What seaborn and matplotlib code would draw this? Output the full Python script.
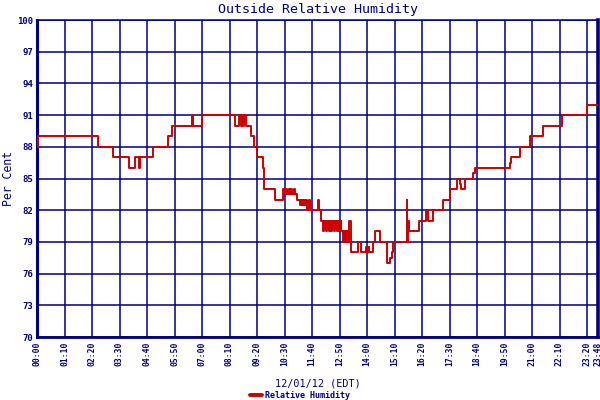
import matplotlib
matplotlib.use("Agg")
import matplotlib.pyplot as plt
import seaborn as sns
import pandas as pd
from matplotlib.lines import Line2D

# ---- data (minutes after midnight where the reading changes, and the new reading) ----
minutes = [0, 3, 155, 193, 234, 250, 260, 263, 295, 333, 343, 394, 396, 421,
           503, 513, 518, 522, 525, 528, 531, 545, 552, 561, 575, 579, 605,
           627, 632, 634, 637, 641, 645, 647, 650, 653, 656, 661,
           669, 671, 674, 676, 678, 679, 683, 684, 686, 693, 696, 715, 718,
           722, 728, 731, 735, 738, 742, 745, 748, 751, 756, 758, 763, 766,
           768, 773, 775, 779, 782, 785, 787, 791, 795, 798, 800,
           817, 824, 837, 840, 844, 846, 856, 861, 873, 890, 891, 898, 903, 907,
           941, 943, 944, 946, 973, 990, 995, 1007, 1034, 1050, 1069, 1076,
           1080, 1090, 1109, 1114, 1204, 1207, 1229, 1256, 1287, 1336, 1400, 1428]
humidity = [88, 89, 88, 87, 86, 87, 86, 87, 88, 89, 90, 91, 90, 91,
            90, 91, 90, 91, 90, 91, 90, 89, 88, 87, 86, 84, 83,
            84, 83.5, 84, 83.5, 84, 83.5, 84, 83.5, 84, 83.5, 83,
            82.5, 83, 82.5, 83, 82.5, 83, 82.5, 83, 82, 83, 82, 83, 82,
            81, 80, 81, 80, 81, 80, 81, 80, 81, 80, 81, 80, 81,
            80, 81, 80, 79, 80, 79, 80, 79, 81, 80, 78,
            79, 78, 78.5, 78, 78.5, 78, 79, 80, 79, 78, 77, 77.5, 78, 79,
            83, 79, 81, 80, 81, 82, 81, 82, 83, 84, 85, 84.5,
            84, 85, 85.5, 86, 86.5, 87, 88, 89, 90, 91, 92, 92]

tick_minutes = [0, 70, 140, 210, 280, 350, 420, 490, 560, 630, 700, 770, 840,
                910, 980, 1050, 1120, 1190, 1260, 1330, 1400, 1428]
tick_labels = ["00:00", "01:10", "02:20", "03:30", "04:40", "05:50", "07:00",
               "08:10", "09:20", "10:30", "11:40", "12:50", "14:00", "15:10",
               "16:20", "17:30", "18:40", "19:50", "21:00", "22:10", "23:20",
               "23:48"]
y_ticks = [70, 73, 76, 79, 82, 85, 88, 91, 94, 97, 100]

title = "Outside Relative Humidity"
x_title = "12/01/12 (EDT)"
y_title = "Per Cent"
series_name = "Relative Humidity"

NAVY = "#000080"
RED = "#cc0000"

sns.set_theme(style="white")
plt.rcParams["font.family"] = ["DejaVu Sans Mono", "DejaVu Sans"]

fig = plt.figure(figsize=(6, 4), dpi=100)
fig.patch.set_facecolor("white")
ax = fig.add_axes([37 / 600, 63 / 400, 561 / 600, 317 / 400])
ax.set_facecolor("white")

df = pd.DataFrame({"minute": minutes, "humidity": humidity})
sns.lineplot(data=df, x="minute", y="humidity", ax=ax, color=RED,
             linewidth=1.4, drawstyle="steps-post", estimator=None,
             legend=False, zorder=3)

ax.set_xlim(0, 1428)
ax.set_ylim(70, 100)
ax.set_xticks(tick_minutes)
ax.set_xticklabels(tick_labels, rotation=90, fontsize=5.8, fontweight="bold",
                   color=NAVY)
ax.set_yticks(y_ticks)
ax.set_yticklabels([str(v) for v in y_ticks], fontsize=6.5,
                   fontweight="bold", color=NAVY)
ax.tick_params(axis="both", length=0, pad=3)
ax.grid(True, color=NAVY, linewidth=1.1, zorder=1)
ax.set_axisbelow(True)

for side, lw in [("left", 2.2), ("bottom", 2.0), ("right", 2.6), ("top", 1.1)]:
    ax.spines[side].set_visible(True)
    ax.spines[side].set_color(NAVY)
    ax.spines[side].set_linewidth(lw)

ax.set_title(title, color=NAVY, fontsize=9.6, y=1 + (20 - 9) / 317,
             va="center", pad=0)
ax.set_xlabel(x_title, color=NAVY, fontsize=7.3)
ax.xaxis.set_label_coords(0.5, -(378 - 337) / 317)
ax.set_ylabel(y_title, color=NAVY, fontsize=8.3, va="center")
ax.yaxis.set_label_coords(-(37 - 9) / 561, 0.5)

handle = Line2D([], [], color=RED, linewidth=2.8)
fig.legend(handles=[handle], labels=[series_name], loc="center",
           bbox_to_anchor=(300 / 600, 1 - 395 / 400), frameon=False,
           handlelength=1.4, handletextpad=0.3,
           prop={"size": 6, "weight": "bold", "family": "DejaVu Sans Mono"},
           labelcolor=NAVY)

fig.savefig("out.png", dpi=100)
